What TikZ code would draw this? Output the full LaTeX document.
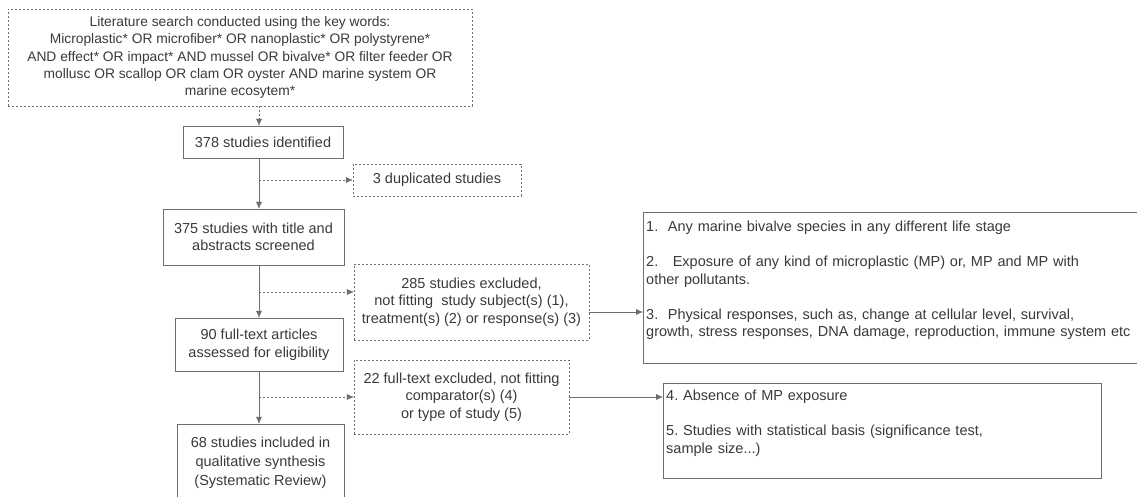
\documentclass[tikz,border=0pt]{standalone}
\usepackage{fontspec}
\setmainfont{Liberation Sans}
\usetikzlibrary{positioning, calc, arrows.meta}
\definecolor{linegray}{HTML}{6E6E6E}
\definecolor{textgray}{HTML}{3A3A3A}
\frenchspacing
\tikzset{
	box/.style={draw=linegray, thin, text=textgray, align=center, inner sep=0pt, font=\fontsize{14.5}{17.5}\selectfont},
	dbox/.style={box, dash pattern=on 2pt off 2pt},
	listbox/.style={box, align=left, anchor=west, inner xsep=3pt},
	flow/.style={draw=linegray, -{Latex[length=7pt, width=6pt]}},
	dflow/.style={flow, dash pattern=on 2pt off 2pt},
}

\begin{document}
\begin{tikzpicture}[x=1pt, y=-1pt]
		\useasboundingbox (0, 0) rectangle (1137, 497);
		\fill[white] (0, 0) rectangle (1137, 497);
		\coordinate (col) at (259, 0);
		% main column
		\node[dbox, minimum width=464pt, minimum height=97pt, font=\fontsize{13.8}{17.3}\selectfont] (search) at (240, 57.5) {Literature search conducted using the key words:\\ Microplastic* OR microfiber* OR nanoplastic* OR polystyrene*\\ AND effect* OR impact* AND mussel OR bivalve* OR filter feeder OR\\ mollusc OR scallop OR clam OR oyster AND marine system OR\\ marine ecosytem*};
		\node[box, minimum width=160pt, minimum height=32pt] (ident) at (263, 142) {378 studies identified};
		\node[box, minimum width=181pt, minimum height=56pt] (screen) at (253.5, 237) {375 studies with title and\\ abstracts screened};
		\node[box, minimum width=168pt, minimum height=53pt] (full) at (259, 344.5) {90 full-text articles\\ assessed for eligibility};
		\node[box, minimum width=167pt, minimum height=78pt, font=\fontsize{14.5}{19}\selectfont] (incl) at (260.5, 463) {68 studies included in\\ qualitative synthesis\\ (Systematic Review)};
		% exclusions
		\node[dbox, minimum width=168pt, minimum height=32pt] (dup) at (437, 180) {3 duplicated studies};
		\node[dbox, minimum width=235pt, minimum height=76pt] (excl1) at (471.5, 302) {285 studies excluded,\\ not fitting\ \ study subject(s) (1),\\ treatment(s) (2) or response(s) (3)};
		\node[dbox, minimum width=215pt, minimum height=74pt] (excl2) at (461.5, 397) {22 full-text excluded, not fitting\\ comparator(s) (4)\\ or type of study (5)};
		% criteria
		\node[listbox, text width=504pt, minimum height=151pt] (crit1) at (643, 287.5) {1.\ \ Any marine bivalve species in any different life stage\\ ~\\ 2.\ \ \ Exposure of any kind of microplastic (MP) or, MP and MP with\\ other pollutants.\\ ~\\ 3.\ \ Physical responses, such as, change at cellular level, survival,\\ growth, stress responses, DNA damage, reproduction, immune system etc\\ ~};
		\node[listbox, text width=432pt, minimum height=95pt] (crit2) at (663, 430.5) {4. Absence of MP exposure\\ ~\\ 5. Studies with statistical basis (significance test,\\ sample size...)\\ ~};
		% connectors
		\draw[dflow] (search.south -| col) -- (ident.north -| col);
		\draw[flow] (ident.south -| col) -- (screen.north -| col);
		\draw[flow] (screen.south -| col) -- (full.north -| col);
		\draw[flow] (full.south -| col) -- (incl.north -| col);
		\coordinate (b2) at ($(excl1.west)+(0, -10)$);
		\draw[dflow] (col |- dup.west) -- (dup.west);
		\draw[dflow] (col |- b2) -- (b2);
		\draw[dflow] (col |- excl2.west) -- (excl2.west);
		\coordinate (c1) at ($(excl1.east)+(0, 10)$);
		\draw[flow] (c1) -- (c1 -| crit1.west);
		\draw[flow] (excl2.east) -- (excl2.east -| crit2.west);
	\end{tikzpicture}
\end{document}
